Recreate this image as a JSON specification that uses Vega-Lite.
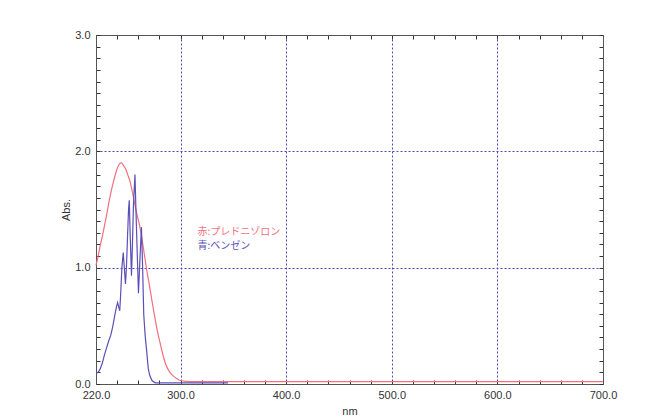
{
  "$schema": "https://vega.github.io/schema/vega-lite/v6.json",
  "width": 507,
  "height": 349,
  "autosize": {"type": "none"},
  "padding": {"left": 96, "top": 35, "right": 64, "bottom": 35},
  "background": "white",
  "config": {
    "view": {"stroke": null},
    "font": "Liberation Sans",
    "axis": {"labelFont": "Liberation Sans", "titleFont": "Liberation Sans", "labelColor": "#333", "titleColor": "#333", "titleFontWeight": "normal", "domainColor": "#555", "tickColor": "#333", "tickWidth": 1, "labelFontSize": 11, "titleFontSize": 11}
  },
  "datasets": {
    "red": [
      {"nm": 220, "abs": 1.02}, {"nm": 222, "abs": 1.10}, {"nm": 224, "abs": 1.19}, {"nm": 226, "abs": 1.27},
      {"nm": 228, "abs": 1.36}, {"nm": 230, "abs": 1.45}, {"nm": 232, "abs": 1.55}, {"nm": 234, "abs": 1.64},
      {"nm": 236, "abs": 1.72}, {"nm": 238, "abs": 1.79}, {"nm": 240, "abs": 1.85}, {"nm": 242, "abs": 1.89},
      {"nm": 244, "abs": 1.90}, {"nm": 246, "abs": 1.88}, {"nm": 248, "abs": 1.85}, {"nm": 250, "abs": 1.80},
      {"nm": 252, "abs": 1.75}, {"nm": 254, "abs": 1.67}, {"nm": 256, "abs": 1.58}, {"nm": 258, "abs": 1.49},
      {"nm": 260, "abs": 1.41}, {"nm": 262, "abs": 1.33}, {"nm": 264, "abs": 1.22}, {"nm": 266, "abs": 1.10},
      {"nm": 268, "abs": 0.98}, {"nm": 270, "abs": 0.88}, {"nm": 272, "abs": 0.77}, {"nm": 274, "abs": 0.66},
      {"nm": 276, "abs": 0.56}, {"nm": 278, "abs": 0.46}, {"nm": 280, "abs": 0.38}, {"nm": 282, "abs": 0.30},
      {"nm": 284, "abs": 0.23}, {"nm": 286, "abs": 0.17}, {"nm": 288, "abs": 0.13}, {"nm": 290, "abs": 0.10},
      {"nm": 293, "abs": 0.07}, {"nm": 296, "abs": 0.05}, {"nm": 300, "abs": 0.03}, {"nm": 310, "abs": 0.02},
      {"nm": 350, "abs": 0.02}, {"nm": 400, "abs": 0.02}, {"nm": 500, "abs": 0.02}, {"nm": 600, "abs": 0.02},
      {"nm": 700, "abs": 0.02}
    ],
    "blue": [
      {"nm": 220, "abs": 0.09}, {"nm": 222, "abs": 0.10}, {"nm": 224, "abs": 0.13}, {"nm": 226, "abs": 0.18},
      {"nm": 228, "abs": 0.25}, {"nm": 230, "abs": 0.31}, {"nm": 232, "abs": 0.37}, {"nm": 234, "abs": 0.42},
      {"nm": 236, "abs": 0.50}, {"nm": 238, "abs": 0.60}, {"nm": 239.5, "abs": 0.67}, {"nm": 240.5, "abs": 0.70},
      {"nm": 241.5, "abs": 0.66}, {"nm": 242.5, "abs": 0.63}, {"nm": 243.5, "abs": 0.80}, {"nm": 244.5, "abs": 1.00},
      {"nm": 245.8, "abs": 1.13}, {"nm": 246.8, "abs": 1.00}, {"nm": 247.9, "abs": 0.86}, {"nm": 248.8, "abs": 1.00},
      {"nm": 249.8, "abs": 1.25}, {"nm": 250.8, "abs": 1.50}, {"nm": 251.5, "abs": 1.58}, {"nm": 252.3, "abs": 1.30},
      {"nm": 253.6, "abs": 0.93}, {"nm": 254.5, "abs": 1.20}, {"nm": 255.5, "abs": 1.55}, {"nm": 256.9, "abs": 1.80},
      {"nm": 257.8, "abs": 1.50}, {"nm": 258.8, "abs": 1.20}, {"nm": 260.2, "abs": 0.78}, {"nm": 261.5, "abs": 1.05},
      {"nm": 263.0, "abs": 1.35}, {"nm": 264.0, "abs": 1.05}, {"nm": 265.2, "abs": 0.60}, {"nm": 266.5, "abs": 0.42},
      {"nm": 268, "abs": 0.28}, {"nm": 269.5, "abs": 0.13}, {"nm": 271, "abs": 0.07}, {"nm": 273, "abs": 0.03},
      {"nm": 276, "abs": 0.01}, {"nm": 280, "abs": 0.01}, {"nm": 300, "abs": 0.01}, {"nm": 320, "abs": 0.01},
      {"nm": 345, "abs": 0.01}
    ],
    "labels": [
      {"nm": 316, "abs": 1.31, "label": "赤:プレドニゾロン", "series": "red"},
      {"nm": 316, "abs": 1.19, "label": "青:ベンゼン", "series": "blue"}
    ]
  },
  "resolve": {"axis": {"x": "independent", "y": "independent"}},
  "layer": [
    {
      "data": {"name": "red"},
      "mark": {"type": "line", "color": "#f2707c", "strokeWidth": 1.2, "interpolate": "monotone"},
      "encoding": {
        "x": {"field": "nm", "type": "quantitative", "scale": {"domain": [220, 700], "nice": false, "zero": false},
          "axis": {"orient": "bottom", "title": "nm", "titlePadding": 5,
            "values": [220,240,260,280,300,320,340,360,380,400,420,440,460,480,500,520,540,560,580,600,620,640,660,680,700],
            "labelExpr": "datum.value == 220 || datum.value % 100 == 0 ? format(datum.value, '.1f') : ''",
            "tickSize": -4, "labelPadding": 9, "labelFlush": false, "labelOverlap": false,
            "grid": true, "gridColor": "#4a48c4", "gridDash": [2, 2], "gridWidth": 1,
            "gridOpacity": {"condition": {"test": "datum.value % 100 == 0 && datum.value > 220 && datum.value < 700", "value": 1}, "value": 0}}},
        "y": {"field": "abs", "type": "quantitative", "scale": {"domain": [0, 3], "nice": false},
          "axis": {"orient": "left", "title": "Abs.", "titlePadding": 3,
            "values": [0,0.1,0.2,0.3,0.4,0.5,0.6,0.7,0.8,0.9,1,1.1,1.2,1.3,1.4,1.5,1.6,1.7,1.8,1.9,2,2.1,2.2,2.3,2.4,2.5,2.6,2.7,2.8,2.9,3],
            "labelExpr": "abs(datum.value - round(datum.value)) < 0.001 ? format(datum.value, '.1f') : ''",
            "tickSize": -4, "labelPadding": 10, "labelFlush": false, "labelOverlap": false,
            "grid": true, "gridColor": "#4a48c4", "gridDash": [2, 2], "gridWidth": 1,
            "gridOpacity": {"condition": {"test": "abs(datum.value - round(datum.value)) < 0.001 && datum.value > 0.5 && datum.value < 2.5", "value": 1}, "value": 0}}}
      }
    },
    {
      "data": {"name": "blue"},
      "mark": {"type": "line", "color": "#5b4fb8", "strokeWidth": 1.2},
      "encoding": {
        "x": {"field": "nm", "type": "quantitative",
          "axis": {"orient": "top", "title": null, "labels": false, "grid": false, "tickSize": -4,
            "values": [220,240,260,280,300,320,340,360,380,400,420,440,460,480,500,520,540,560,580,600,620,640,660,680,700]}},
        "y": {"field": "abs", "type": "quantitative",
          "axis": {"orient": "right", "title": null, "labels": false, "grid": false, "tickSize": -4,
            "values": [0,0.1,0.2,0.3,0.4,0.5,0.6,0.7,0.8,0.9,1,1.1,1.2,1.3,1.4,1.5,1.6,1.7,1.8,1.9,2,2.1,2.2,2.3,2.4,2.5,2.6,2.7,2.8,2.9,3]}}
      }
    },
    {
      "data": {"name": "labels"},
      "mark": {"type": "text", "align": "left", "baseline": "middle", "font": "Noto Sans CJK JP", "fontSize": 10},
      "encoding": {
        "x": {"field": "nm", "type": "quantitative", "axis": null},
        "y": {"field": "abs", "type": "quantitative", "axis": null},
        "text": {"field": "label"},
        "color": {"field": "series", "type": "nominal", "scale": {"domain": ["red", "blue"], "range": ["#f2707c", "#5b4fb8"]}, "legend": null}
      }
    }
  ]
}
